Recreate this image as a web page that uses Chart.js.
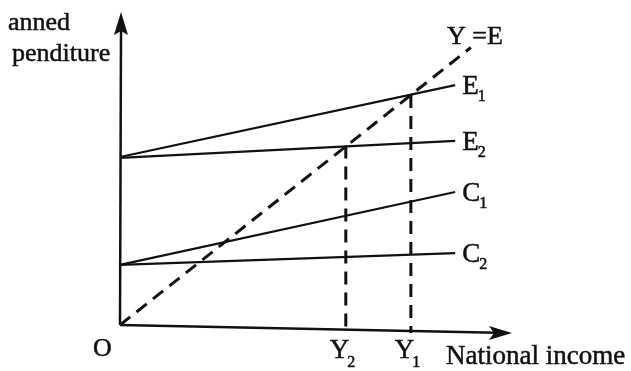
<!DOCTYPE html>
<html>
<head>
<meta charset="utf-8">
<script src="https://cdn.jsdelivr.net/npm/chart.js@4.4.0/dist/chart.umd.min.js"></script>
<style>
  body { margin: 0; background: #fff; }
  #wrap { width: 631px; height: 371px; }
</style>
</head>
<body>
<div id="wrap"><canvas id="chart" width="631" height="371"></canvas></div>
<script>
// Values (arbitrary income / expenditure units)
const incomeRange = [0, 85.5];
const lineE1 = [54.2, 77.4];
const lineE2 = [53.9, 59.4];
const lineC1 = [19.4, 42.9];
const lineC2 = [19.4, 23.2];
const yEqualsE = [0, 89.5];
const equilibriumY1 = 74.2;
const equilibriumY2 = 57.6;
const lineLabels = ['E', 'E', 'C', 'C'];
const lineSubs = ['1', '2', '1', '2'];

const serif = '"Liberation Serif", "DejaVu Serif", serif';

function seg(x0, x1, ys) {
    return [{ x: x0, y: ys[0] }, { x: x1, y: ys[1] }];
}

const solid = { borderColor: '#111', borderWidth: 2.2, pointRadius: 0, fill: false, clip: false };
const dashed = { borderColor: '#111', borderWidth: 3, borderDash: [13, 8], pointRadius: 0, fill: false, clip: false };

// draw text a little heavier, like the printed scan
function label(ctx, txt, x, y, size) {
    ctx.font = size + 'px ' + serif;
    ctx.lineWidth = 0.5;
    ctx.fillText(txt, x, y);
    ctx.strokeText(txt, x, y);
    return ctx.measureText(txt).width;
}

// Axes + arrows + text labels
const diagramPlugin = {
    id: 'diagram',
    afterDatasetsDraw(chart) {
        const ctx = chart.ctx;
        const xs = chart.scales.x, ys = chart.scales.y;
        const ox = xs.getPixelForValue(0), oy = ys.getPixelForValue(0);
        ctx.save();
        ctx.strokeStyle = '#111';
        ctx.fillStyle = '#111';
        ctx.lineWidth = 2.5;

        // vertical axis
        ctx.beginPath();
        ctx.moveTo(ox, oy);
        ctx.lineTo(ox + 1, 30);
        ctx.stroke();
        ctx.beginPath();
        ctx.moveTo(ox + 1, 12);
        ctx.lineTo(ox - 6, 35);
        ctx.lineTo(ox + 1, 31);
        ctx.lineTo(ox + 8, 35);
        ctx.closePath();
        ctx.fill();

        // horizontal axis (slightly tilted like the scan)
        const tipX = 512, tipY = oy + 8;
        ctx.beginPath();
        ctx.moveTo(ox, oy);
        ctx.lineTo(tipX - 15, tipY - 0.3);
        ctx.stroke();
        ctx.beginPath();
        ctx.moveTo(tipX, tipY);
        ctx.lineTo(tipX - 23, tipY - 7);
        ctx.lineTo(tipX - 18, tipY);
        ctx.lineTo(tipX - 23, tipY + 7);
        ctx.closePath();
        ctx.fill();

        // labels
        ctx.textBaseline = 'alphabetic';
        const ends = [lineE1, lineE2, lineC1, lineC2];
        ends.forEach((ln, i) => {
            const px = xs.getPixelForValue(incomeRange[1]) + 7;
            const py = ys.getPixelForValue(ln[1]) + 9;
            const w = label(ctx, lineLabels[i], px, py, 27);
            label(ctx, lineSubs[i], px + w - 1, py + 7, 16);
        });

        label(ctx, 'Y =E', 447, 44, 26);
        label(ctx, 'O', 93, 356, 26);

        [[equilibriumY2, '2'], [equilibriumY1, '1']].forEach(([v, s]) => {
            const px = xs.getPixelForValue(v) - 16;
            const w = label(ctx, 'Y', px, 358, 27);
            label(ctx, s, px + w - 2, 367, 16);
        });

        label(ctx, 'National income', 446, 364, 27);

        // axis title, cut off at the left edge as in the scan
        label(ctx, 'anned', 8, 30, 26);
        label(ctx, 'penditure', 12, 61, 26);
        ctx.restore();
    }
};

new Chart(document.getElementById('chart'), {
    type: 'line',
    data: {
        datasets: [
            { ...solid, data: seg(incomeRange[0], incomeRange[1], lineE1) },
            { ...solid, data: seg(incomeRange[0], incomeRange[1], lineE2) },
            { ...solid, data: seg(incomeRange[0], incomeRange[1], lineC1) },
            { ...solid, data: seg(incomeRange[0], incomeRange[1], lineC2) },
            { ...dashed, data: [{ x: yEqualsE[0], y: yEqualsE[0] }, { x: yEqualsE[1], y: yEqualsE[1] }] },
            { ...dashed, data: [{ x: equilibriumY1, y: equilibriumY1 }, { x: equilibriumY1, y: -2.6 }] },
            { ...dashed, data: [{ x: equilibriumY2, y: equilibriumY2 + 0.3 }, { x: equilibriumY2, y: -2 }] }
        ]
    },
    options: {
        responsive: false,
        animation: false,
        layout: { padding: { left: 120, right: 119, top: 15, bottom: 46 } },
        plugins: { legend: { display: false }, tooltip: { enabled: false } },
        scales: {
            x: { type: 'linear', min: 0, max: 100, display: false },
            y: { type: 'linear', min: 0, max: 100, display: false }
        }
    },
    plugins: [diagramPlugin]
});
</script>
</body>
</html>
